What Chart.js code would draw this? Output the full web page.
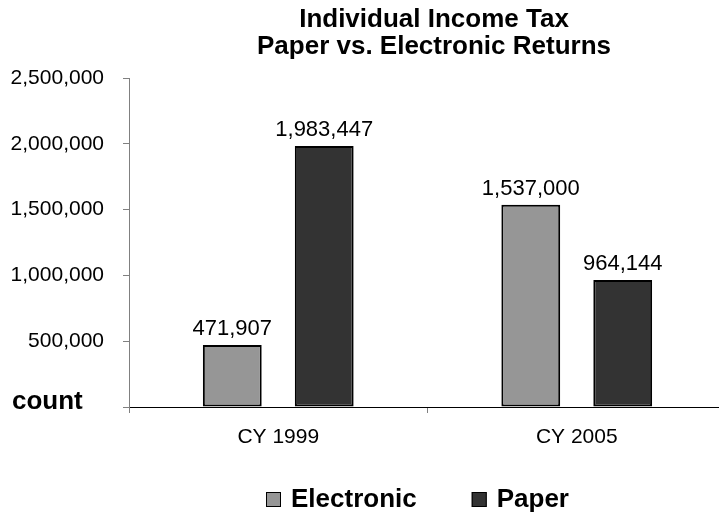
<!DOCTYPE html>
<html lang="en">
<head>
<meta charset="UTF-8">
<title>Individual Income Tax - Paper vs. Electronic Returns</title>
<script src="https://cdn.jsdelivr.net/npm/chart.js@4"></script>
<style>
    body { margin: 0; background: #fff; overflow: hidden; }
    .wrap { width: 719px; height: 516px; overflow: hidden; }
</style>
</head>
<body>
<div class="wrap"><canvas id="returnsChart" width="745" height="516"></canvas></div>
<script>
    const years = ['CY 1999', 'CY 2005'];
    const electronic = [471907, 1537000];
    const paper = [1983447, 964144];
    const yTicks = [0, 500000, 1000000, 1500000, 2000000, 2500000];
    const titleLines = ['Individual Income Tax', 'Paper vs. Electronic Returns'];

    const FONT = "'Liberation Sans', Arial, sans-serif";
    const fmt = n => n.toLocaleString('en-US');

    // title, legend, value labels and the "count" caption
    const extras = {
        id: 'extras',
        afterDraw(chart) {
            const ctx = chart.ctx;
            ctx.save();
            ctx.fillStyle = '#000';
            ctx.textBaseline = 'alphabetic';

            ctx.font = `bold 26px ${FONT}`;
            ctx.textAlign = 'center';
            titleLines.forEach((t, i) => ctx.fillText(t, 434, 27 + i * 26.5));

            ctx.font = `22px ${FONT}`;
            chart.data.datasets.forEach((ds, i) => {
                chart.getDatasetMeta(i).data.forEach((bar, j) => {
                    ctx.fillText(fmt(ds.data[j]), bar.x, bar.y - 10);
                });
            });

            const y = chart.scales.y;
            ctx.font = `bold 26px ${FONT}`;
            ctx.textAlign = 'left';
            ctx.fillText('count', 12, y.getPixelForValue(0) + 2);

            // legend
            let x = 266;
            const top = 492;
            chart.data.datasets.forEach(ds => {
                ctx.fillStyle = ds.backgroundColor;
                ctx.fillRect(x, top, 15, 15);
                ctx.strokeStyle = '#000';
                ctx.lineWidth = 1;
                ctx.strokeRect(x + 0.5, top + 0.5, 14, 14);
                ctx.fillStyle = '#000';
                ctx.fillText(ds.label, x + 25, top + 15);
                x += 25 + ctx.measureText(ds.label).width + 55;
            });
            ctx.restore();
        }
    };

    new Chart(document.getElementById('returnsChart'), {
        type: 'bar',
        data: {
            labels: years,
            datasets: [
                { label: 'Electronic', data: electronic, backgroundColor: '#969696' },
                { label: 'Paper', data: paper, backgroundColor: '#333333' }
            ]
        },
        options: {
            responsive: false,
            animation: false,
            devicePixelRatio: 1,
            layout: { padding: { top: 78, right: 19, left: 0, bottom: 0 } },
            datasets: {
                bar: {
                    categoryPercentage: 0.616,
                    barPercentage: 0.64,
                    borderColor: '#000',
                    borderWidth: 2,
                    borderSkipped: false
                }
            },
            plugins: {
                legend: { display: false },
                title: { display: false },
                tooltip: { enabled: false }
            },
            scales: {
                x: {
                    afterFit: s => { s.height = 109; },
                    border: { color: '#000', width: 1 },
                    grid: { offset: true, drawOnChartArea: false, tickLength: 6, color: '#808080' },
                    ticks: { color: '#000', font: { family: FONT, size: 21 }, padding: 12 }
                },
                y: {
                    min: 0,
                    max: 2500000,
                    afterFit: s => { s.width = 129; },
                    afterBuildTicks: s => { s.ticks = yTicks.map(v => ({ value: v })); },
                    border: { color: '#808080', width: 1 },
                    grid: { drawOnChartArea: false, tickLength: 6, color: '#808080' },
                    ticks: {
                        color: '#000',
                        font: { family: FONT, size: 21 },
                        padding: 19,
                        callback: v => v === 0 ? '' : fmt(v)
                    }
                }
            }
        },
        plugins: [extras]
    });
</script>
</body>
</html>
